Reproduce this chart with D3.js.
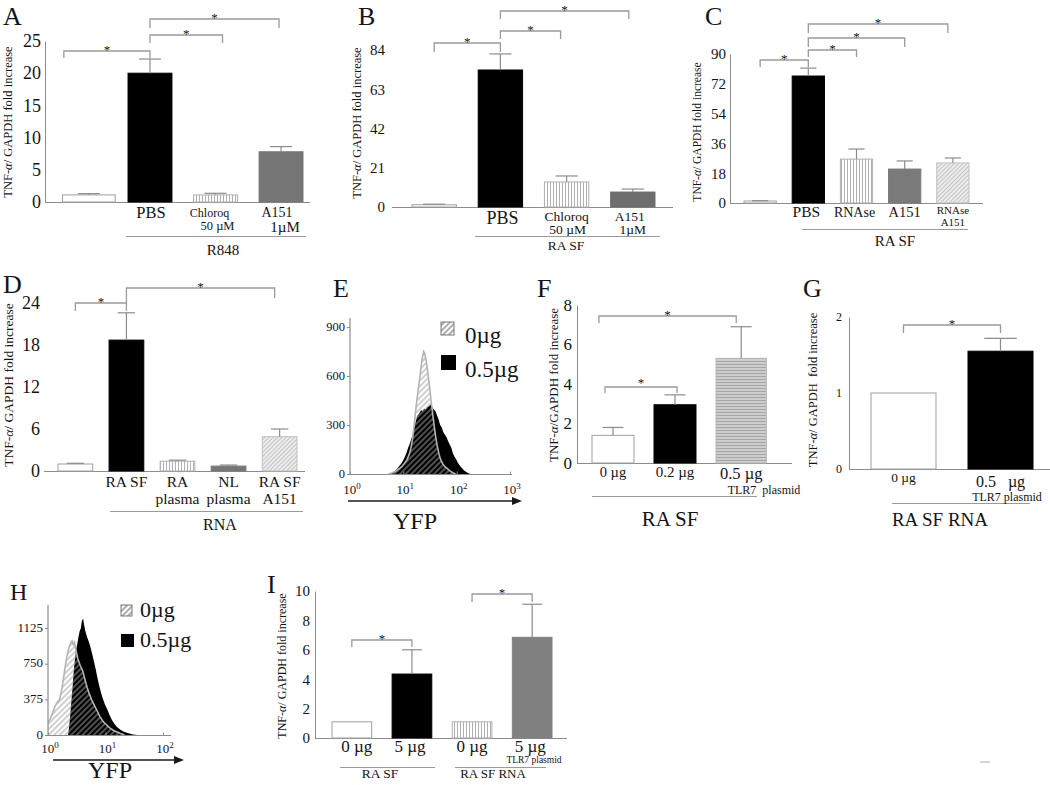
<!DOCTYPE html>
<html><head><meta charset="utf-8">
<script src="https://cdn.jsdelivr.net/npm/d3@7"></script>
<style>
body{margin:0;background:#fff}
svg{display:block}
text{font-family:"Liberation Serif","Times New Roman",serif;fill:#141414}
</style>
</head><body><script>
// ---------------- DATA ----------------
const yTitleText = "TNF-α/ GAPDH fold increase";

const aLabels = [[], ["PBS"], ["Chloroq", "50 µM"], ["A151", "1µM"]];
const aValues = [1.1, 20.0, 1.1, 7.8];
const aErrors = [0.2, 2.2, 0.25, 0.8];
const aTicks = [0, 5, 10, 15, 20, 25];
const aGroup = "R848";

const bLabels = [[], ["PBS"], ["Chloroq", "50 µM"], ["A151", "1µM"]];
const bValues = [1.2, 73.3, 13.4, 8.0];
const bErrors = [0.3, 8.6, 3.2, 1.6];
const bTicks = [0, 21, 42, 63, 84];
const bGroup = "RA SF";

const cLabels = [[], ["PBS"], ["RNAse"], ["A151"], ["RNAse", "A151"]];
const cValues = [1.2, 76.7, 26.5, 20.5, 24.2];
const cErrors = [0.2, 4.8, 6.1, 4.9, 3.0];
const cTicks = [0, 18, 36, 54, 72, 90];
const cGroup = "RA SF";

const dLabels = [[], ["RA SF"], ["RA", "plasma"], ["NL", "plasma"], ["RA SF", "A151"]];
const dValues = [1.0, 18.7, 1.4, 0.7, 4.9];
const dErrors = [0.1, 3.9, 0.15, 0.15, 1.1];
const dTicks = [0, 6, 12, 18, 24];
const dGroup = "RNA";

const fLabels = [["0 µg"], ["0.2 µg"], ["0.5 µg"]];
const fValues = [1.4, 2.95, 5.3];
const fErrors = [0.4, 0.5, 1.6];
const fTicks = [0, 2, 4, 6, 8];
const fNote = "TLR7  plasmid";
const fGroup = "RA SF";

const gLabels = [["0 µg"], ["0.5   µg"]];
const gValues = [1.0, 1.55];
const gErrors = [0, 0.17];
const gTicks = [0, 1, 2];
const gNote = "TLR7 plasmid";
const gGroup = "RA SF RNA";

const iLabels = [["0 µg"], ["5 µg"], ["0 µg"], ["5 µg"]];
const iValues = [1.1, 4.35, 1.1, 6.85];
const iErrors = [0, 1.65, 0, 2.25];
const iTicks = [0, 2, 4, 6, 8, 10];
const iNote = "TLR7 plasmid";
const iGroups = ["RA SF", "RA SF RNA"];

// histograms: log10(YFP) and cell counts
const legendNames = ["0µg", "0.5µg"];
const eLog0 = [0.72,0.80,0.86,0.92,0.97,1.02,1.07,1.11,1.14,1.17,1.20,1.23,1.26,1.29,1.32,1.35,1.38,1.40,1.43,1.46,1.49,1.52,1.55,1.58,1.61,1.64,1.67,1.70,1.74,1.78,1.83,1.88,1.93,1.98];
const eCnt0 = [0,8,18,32,45,65,88,120,155,210,290,385,470,545,620,700,750,740,690,620,540,450,370,290,220,165,120,88,62,45,32,18,8,0];
const eLog1 = [0.72,0.78,0.84,0.88,0.92,0.96,1.00,1.03,1.06,1.09,1.12,1.15,1.18,1.21,1.24,1.27,1.30,1.33,1.36,1.39,1.42,1.45,1.48,1.51,1.54,1.57,1.60,1.63,1.66,1.69,1.72,1.75,1.78,1.81,1.84,1.87,1.90,1.93,1.96,1.99,2.02,2.06,2.10,2.14,2.18,2.22,2.26];
const eCnt1 = [0,6,18,30,48,62,85,105,130,160,185,215,250,290,330,360,372,390,385,400,395,410,415,425,410,395,385,360,335,300,285,255,240,225,200,180,160,125,105,90,70,50,35,22,12,5,0];
const eTicks = [0, 300, 600, 900];

const hLog0 = [0.00,0.04,0.08,0.12,0.16,0.20,0.24,0.28,0.31,0.34,0.37,0.40,0.42,0.44,0.46,0.49,0.52,0.56,0.60,0.64,0.68,0.72,0.76,0.80,0.85,0.90,0.96,1.02,1.08,1.14,1.20,1.26,1.33];
const hCnt0 = [130,170,230,300,345,370,480,640,760,860,930,975,990,950,975,880,800,730,680,590,500,430,370,320,260,195,140,105,72,48,32,15,0];
const hLog1 = [0.35,0.37,0.39,0.41,0.43,0.45,0.47,0.49,0.51,0.53,0.55,0.57,0.59,0.61,0.63,0.65,0.68,0.71,0.74,0.77,0.80,0.83,0.86,0.89,0.92,0.95,0.99,1.03,1.07,1.11,1.15,1.20,1.26,1.32,1.40,1.48,1.55];
const hCnt1 = [0,100,230,380,520,690,800,900,960,1030,1090,1120,1200,1225,1150,1090,1030,980,920,850,770,690,600,520,450,390,320,270,210,160,120,85,55,35,18,6,0];
const hTicks = [0, 375, 750, 1125];

// ---------------- DRAWING ----------------
const svg = d3.select("body").append("svg").attr("width", 1050).attr("height", 785);
const defs = svg.append("defs");
const AX = "#8c8c8c", BR = "#9a9a9a";
const fmt = d3.format("d");

function pattern(id, w, h, bg, line, stroke, sw, rot) {
  const p = defs.append("pattern").attr("id", id).attr("patternUnits", "userSpaceOnUse")
    .attr("width", w).attr("height", h);
  if (rot) p.attr("patternTransform", `rotate(${rot})`);
  if (bg) p.append("rect").attr("width", w).attr("height", h).attr("fill", bg);
  p.append("line").attr("x1", line[0]).attr("y1", line[1]).attr("x2", line[2]).attr("y2", line[3])
    .attr("stroke", stroke).attr("stroke-width", sw);
}
pattern("vstripe", 3, 10, "#ffffff", [1.5, 0, 1.5, 10], "#b0b0b0", 1, 0);
pattern("dhatch", 3, 3, "#efefef", [1.5, 0, 1.5, 3], "#c6c6c6", 1.2, 45);
pattern("hline", 10, 3, "#d2d2d2", [0, 1.5, 10, 1.5], "#a4a4a4", 1.2, 0);
pattern("hhatch", 4, 4, null, [2, 0, 2, 4], "#a0a0a0", 1, 45);
pattern("lhatch", 4, 4, "#ffffff", [2, 0, 2, 4], "#808080", 1.3, 45);
defs.append("marker").attr("id", "arrow").attr("viewBox", "0 0 10 8").attr("refX", 1).attr("refY", 4)
  .attr("markerWidth", 10).attr("markerHeight", 8).attr("markerUnits", "userSpaceOnUse").attr("orient", "auto")
  .append("path").attr("d", "M0,0L10,4L0,8Z").attr("fill", "#1a1a1a");

function letter(t, x, y, fs) {
  svg.append("text").attr("x", x).attr("y", y).attr("font-size", fs || 26).text(t);
}
function yTitle(t) {
  const txt = svg.append("text").attr("transform", `translate(${t.x},${t.y}) rotate(-90)`)
    .attr("text-anchor", "middle").attr("dominant-baseline", "central").attr("font-size", t.fs)
    .attr("style", "white-space:pre");
  const parts = (t.text || yTitleText).split("α");
  parts.forEach((p, i) => {
    if (i > 0) txt.append("tspan").attr("font-style", "italic").text("α");
    txt.append("tspan").text(p);
  });
}

function barPanel(o) {
  const n = o.values.length;
  const x = d3.scaleBand().domain(d3.range(n)).range(o.xr).paddingInner(o.pad).paddingOuter(0);
  const y = d3.scaleLinear().domain([0, d3.max(o.ticks)]).range(o.yr);
  const wm = i => (o.wMul ? o.wMul[i] : 1);
  const bw = x.bandwidth();
  const cx = i => x(i) + bw * wm(i) / 2;
  const g = svg.append("g");

  const axis = d3.axisLeft(y).tickValues(o.ticks).tickFormat(fmt).tickSize(0).tickSizeOuter(0).tickPadding(o.tp);
  const ag = g.append("g").attr("transform", `translate(${o.ax},0)`).call(axis);
  ag.attr("font-family", null).attr("font-size", null);
  ag.select(".domain").attr("stroke", o.axisLine ? AX : "none");
  ag.selectAll("text").attr("font-size", o.tfs).attr("fill", "#141414");

  g.append("line").attr("x1", o.ax).attr("x2", o.bx2).attr("y1", Math.round(y(0)) + 0.5).attr("y2", Math.round(y(0)) + 0.5)
    .attr("stroke", AX);

  g.selectAll("rect.bar").data(o.values).join("rect").attr("class", "bar")
    .attr("x", (d, i) => x(i)).attr("width", (d, i) => bw * wm(i))
    .attr("y", d => y(d)).attr("height", d => y(0) - y(d))
    .attr("fill", (d, i) => o.fills[i]).attr("stroke", (d, i) => o.strokes[i]).attr("stroke-width", 1);

  o.values.forEach((v, i) => {
    const e = o.errors[i];
    if (!e) return;
    g.append("line").attr("x1", cx(i)).attr("x2", cx(i)).attr("y1", y(v)).attr("y2", y(v + e)).attr("stroke", AX).attr("stroke-width", 1.2);
    g.append("line").attr("x1", cx(i) - bw * 0.25).attr("x2", cx(i) + bw * 0.25).attr("y1", y(v + e)).attr("y2", y(v + e)).attr("stroke", AX).attr("stroke-width", 1.2);
  });

  o.labels.forEach((lines, i) => {
    lines.forEach((t, j) => {
      const s = o.lblStyle[i][j];
      g.append("text").attr("x", cx(i) + s[2]).attr("y", s[1]).attr("font-size", s[0])
        .attr("text-anchor", "middle").attr("style", "white-space:pre").text(t);
    });
  });

  (o.lines || []).forEach(l => g.append("line").attr("x1", l[0]).attr("x2", l[1]).attr("y1", l[2]).attr("y2", l[2]).attr("stroke", BR));
  (o.texts || []).forEach(t => g.append("text").attr("x", t[1]).attr("y", t[2]).attr("font-size", t[3])
    .attr("text-anchor", "middle").attr("style", "white-space:pre").text(t[0]));

  (o.brackets || []).forEach(b => {
    const xa = cx(b.a) + (b.dxa || 0), xb = cx(b.b) + (b.dxb || 0);
    g.append("path").attr("d", `M${xa},${b.y + b.la}V${b.y}H${xb}V${b.y + b.lb}`)
      .attr("fill", "none").attr("stroke", BR).attr("stroke-width", 1.3);
    g.append("text").attr("x", (xa + xb) / 2).attr("y", b.y + 3 - (b.sy || 0)).attr("font-size", 13)
      .attr("text-anchor", "middle").attr("fill", "#606060").text("*");
  });

  yTitle(o.yt);
  letter(o.letter[0], o.letter[1], o.letter[2]);
}

const WHITE = "#ffffff";
// A
barPanel({
  values: aValues, errors: aErrors, labels: aLabels, ticks: aTicks,
  xr: [62.5, 303], pad: 0.33, wMul: [1.2, 1, 1, 1], yr: [202, 41], ax: 45, axisLine: true, tp: 4, tfs: 18, bx2: 310,
  fills: [WHITE, "#000", "url(#vstripe)", "#767676"], strokes: ["#a0a0a0", "#000", "#b0b0b0", "#767676"],
  lblStyle: [[], [[16.5, 218, 1]], [[12, 217, -6], [12.5, 230, 2]], [[14, 217, -4], [15, 232, 4]]],
  lines: [[126, 306, 236.5]], texts: [[aGroup, 223, 255, 15]],
  brackets: [{a: 0, b: 1, y: 51, la: 7, lb: 7, dxa: -25}, {a: 1, b: 2, y: 35, la: 8, lb: 8, dxb: 7}, {a: 1, b: 3, y: 19, la: 9, lb: 9, dxb: -2}],
  yt: {x: 8, y: 122, fs: 12.5}, letter: ["A", 3, 25]
});
// B
barPanel({
  values: bValues, errors: bErrors, labels: bLabels, ticks: bTicks,
  xr: [412, 655], pad: 0.33, yr: [207, 50], ax: 392, axisLine: false, tp: 7, tfs: 15, bx2: 673,
  fills: [WHITE, "#000", "url(#vstripe)", "#6e6e6e"], strokes: ["#a0a0a0", "#000", "#b0b0b0", "#6e6e6e"],
  lblStyle: [[], [[18, 224, 2]], [[13.5, 221, 0], [13.5, 234, 1]], [[13.5, 221, -3], [13.5, 234, 0]]],
  lines: [[475, 660, 236.5]], texts: [[bGroup, 566, 250, 13.5]],
  brackets: [{a: 0, b: 1, y: 43, la: 9, lb: 9}, {a: 1, b: 2, y: 31, la: 8, lb: 8, dxb: -6}, {a: 1, b: 3, y: 11, la: 8, lb: 8, dxb: -4}],
  yt: {x: 357, y: 123, fs: 12.5}, letter: ["B", 358, 25]
});
// C
barPanel({
  values: cValues, errors: cErrors, labels: cLabels, ticks: cTicks,
  xr: [744, 969], pad: 0.33, yr: [203, 54], ax: 730, axisLine: true, tp: 4, tfs: 15, bx2: 983,
  fills: [WHITE, "#000", "url(#vstripe)", "#7a7a7a", "url(#dhatch)"], strokes: ["#a0a0a0", "#000", "#b0b0b0", "#7a7a7a", "#c0c0c0"],
  lblStyle: [[], [[15.5, 217, -2]], [[14, 217, -2]], [[14.5, 217, 0]], [[11, 214, 0], [11, 226, 0]]],
  lines: [[802, 968, 229.5]], texts: [[cGroup, 895, 246, 15]],
  brackets: [{a: 0, b: 1, y: 60, la: 7, lb: 7}, {a: 1, b: 2, y: 50, la: 7, lb: 7}, {a: 1, b: 3, y: 38, la: 9, lb: 9}, {a: 1, b: 4, y: 24, la: 9, lb: 9, dxb: -5}],
  yt: {x: 697, y: 132, fs: 11.5}, letter: ["C", 705, 25]
});
// D
barPanel({
  values: dValues, errors: dErrors, labels: dLabels, ticks: dTicks,
  xr: [58, 297], pad: 0.32, yr: [471, 303], ax: 44, axisLine: false, tp: 4, tfs: 18, bx2: 305,
  fills: [WHITE, "#000", "url(#vstripe)", "#777777", "url(#dhatch)"], strokes: ["#a0a0a0", "#000", "#b0b0b0", "#777777", "#c0c0c0"],
  lblStyle: [[], [[15.5, 487, 0]], [[15.5, 487, 0], [15.5, 504, 0]], [[15.5, 487, 0], [15.5, 504, 0]], [[15.5, 487, 0], [15.5, 504, 0]]],
  lines: [[110, 303, 511.5]], texts: [[dGroup, 220, 530, 16]],
  brackets: [{a: 0, b: 1, y: 303, la: 8, lb: 8}, {a: 1, b: 4, y: 288, la: 15, lb: 10, dxb: -5}],
  yt: {x: 8, y: 385, fs: 13.5}, letter: ["D", 3, 293]
});
// F
barPanel({
  values: fValues, errors: fErrors, labels: fLabels, ticks: fTicks,
  xr: [592, 758], pad: 0.323, wMul: [1, 1, 1.2], yr: [463, 305], ax: 577, axisLine: true, tp: 5, tfs: 17, bx2: 792,
  fills: [WHITE, "#000", "url(#hline)"], strokes: ["#a0a0a0", "#000", "#b8b8b8"],
  lblStyle: [[[14.5, 477, 0]], [[15, 477, 0]], [[16.5, 479, 0]]],
  lines: [[592, 757, 496.5]], texts: [[fNote, 764, 494, 12], [fGroup, 670, 526, 21]],
  brackets: [{a: 0, b: 2, y: 316, la: 7, lb: 7, dxa: -14, dxb: -5}, {a: 0, b: 1, y: 387, la: 6, lb: 6, dxa: -8, dxb: 2, sy: 3}],
  yt: {x: 553, y: 385, fs: 13, text: "TNF-α/GAPDH fold increase"}, letter: ["F", 537, 297]
});
// G
barPanel({
  values: gValues, errors: gErrors, labels: gLabels, ticks: gTicks,
  xr: [871, 1033], pad: 0.33, yr: [469, 317], ax: 849, axisLine: true, tp: 7, tfs: 12, bx2: 1050,
  fills: [WHITE, "#000"], strokes: ["#a0a0a0", "#000"],
  lblStyle: [[[13.5, 482, 0]], [[16, 487, 0]]],
  lines: [[892, 1030, 503.5]], texts: [[gNote, 1007, 501, 12], [gGroup, 940, 526, 19]],
  brackets: [{a: 0, b: 1, y: 325, la: 8, lb: 8}],
  yt: {x: 813, y: 390, fs: 12.5, text: "TNF-α/ GAPDH  fold increase"}, letter: ["G", 803, 297]
});
// I
barPanel({
  values: iValues, errors: iErrors, labels: iLabels, ticks: iTicks,
  xr: [332, 552], pad: 0.34, yr: [738, 591], ax: 315, axisLine: true, tp: 5, tfs: 15, bx2: 567,
  fills: [WHITE, "#000", "url(#vstripe)", "#808080"], strokes: ["#a0a0a0", "#000", "#b0b0b0", "#808080"],
  lblStyle: [[[17, 752, 5]], [[17, 752, -2]], [[17, 752, 0]], [[17, 752, -2]]],
  lines: [[340, 435, 767.5], [455, 546, 767.5]],
  texts: [[iNote, 534, 763, 9.5], [iGroups[0], 380, 778, 13.5], [iGroups[1], 493, 778, 13]],
  brackets: [{a: 0, b: 1, y: 640, la: 7, lb: 7}, {a: 2, b: 3, y: 594, la: 8, lb: 8}],
  yt: {x: 282, y: 666, fs: 12}, letter: ["I", 267, 593]
});

function histPanel(o) {
  const x = d3.scaleLog().domain(o.xd).range(o.xr);
  const y = d3.scaleLinear().domain([0, d3.max(o.ticks)]).range(o.yr);
  const g = svg.append("g");
  const s0 = d3.zip(o.log0, o.cnt0), s1 = d3.zip(o.log1, o.cnt1);
  const area = d3.area().x(d => x(Math.pow(10, d[0]))).y0(y(0)).y1(d => y(d[1]));
  const line = d3.line().x(d => x(Math.pow(10, d[0]))).y(d => y(d[1]));
  g.append("path").attr("d", area(s1)).attr("fill", "#000");
  g.append("path").attr("d", area(s0)).attr("fill", "url(#hhatch)");
  g.append("path").attr("d", line(s0)).attr("fill", "none").attr("stroke", "#b4b4b4").attr("stroke-width", 1.6);

  const y0 = Math.round(y(0)) + 0.5;
  g.append("line").attr("x1", o.xr[0]).attr("x2", o.xEnd).attr("y1", y0).attr("y2", y0).attr("stroke", AX).attr("stroke-width", 1.2);
  g.append("line").attr("x1", o.xr[0]).attr("x2", o.xr[0]).attr("y1", y0).attr("y2", o.yTop).attr("stroke", AX).attr("stroke-width", 1.2);
  const ay = d3.axisLeft(y).tickValues(o.ticks).tickFormat(fmt).tickSize(3).tickSizeOuter(0).tickPadding(2);
  const ag = g.append("g").attr("transform", `translate(${o.xr[0]},0)`).call(ay);
  ag.attr("font-family", null).attr("font-size", null);
  ag.select(".domain").remove();
  ag.selectAll("line").attr("stroke", AX);
  ag.selectAll("text").attr("font-size", o.tfs).attr("fill", "#141414").attr("dy", "0.25em");
  const ax = d3.axisBottom(x).tickValues(o.xticks).tickSize(-3).tickSizeOuter(0).tickFormat("");
  const xg = g.append("g").attr("transform", `translate(0,${y0})`).call(ax);
  xg.select(".domain").remove();
  xg.selectAll("line").attr("stroke", AX);
  o.xticks.forEach(v => {
    const t = g.append("text").attr("x", x(v) + 2).attr("y", o.xly).attr("font-size", 13).attr("text-anchor", "middle");
    t.append("tspan").text("10");
    t.append("tspan").attr("font-size", 9).attr("dy", -5).text(String(Math.round(Math.log10(v))));
  });
  g.append("line").attr("x1", o.arrow[0]).attr("x2", o.arrow[1]).attr("y1", o.arrow[2]).attr("y2", o.arrow[2])
    .attr("stroke", "#1a1a1a").attr("stroke-width", 1.6).attr("marker-end", "url(#arrow)");
  g.append("text").attr("x", o.yfp[0]).attr("y", o.yfp[1]).attr("font-size", 24).attr("text-anchor", "middle").text("YFP");
  const L = o.leg;
  g.append("rect").attr("x", L.x).attr("y", L.y0).attr("width", L.s).attr("height", L.s).attr("fill", "url(#lhatch)").attr("stroke", "#777");
  g.append("rect").attr("x", L.x).attr("y", L.y1).attr("width", L.s + 2).attr("height", L.s + 2).attr("fill", "#000");
  g.append("text").attr("x", L.tx).attr("y", L.t0).attr("font-size", L.fs).text(legendNames[0]);
  g.append("text").attr("x", L.tx).attr("y", L.t1).attr("font-size", L.fs).text(legendNames[1]);
}

histPanel({
  xd: [1, 1000], xr: [350, 510], xEnd: 512, yr: [474, 327], yTop: 318, ticks: eTicks, tfs: 12.5,
  log0: eLog0, cnt0: eCnt0, log1: eLog1, cnt1: eCnt1, xticks: [1, 10, 100, 1000], xly: 494,
  arrow: [348, 513, 501], yfp: [415, 529],
  leg: {x: 441, y0: 322, y1: 355, s: 13, tx: 465, t0: 343, t1: 377, fs: 23}
});
letter("E", 333, 297);

histPanel({
  xd: [1, 100], xr: [48, 163], xEnd: 171, yr: [735, 628], yTop: 605, ticks: hTicks, tfs: 13,
  log0: hLog0, cnt0: hCnt0, log1: hLog1, cnt1: hCnt1, xticks: [1, 10, 100], xly: 753,
  arrow: [53, 175, 760], yfp: [110, 778],
  leg: {x: 121, y0: 605, y1: 634, s: 11, tx: 140, t0: 617, t1: 647, fs: 22}
});
letter("H", 10, 600, 24);

svg.append("line").attr("x1", 980).attr("x2", 990).attr("y1", 762).attr("y2", 762).attr("stroke", "#aaa");
</script></body></html>
